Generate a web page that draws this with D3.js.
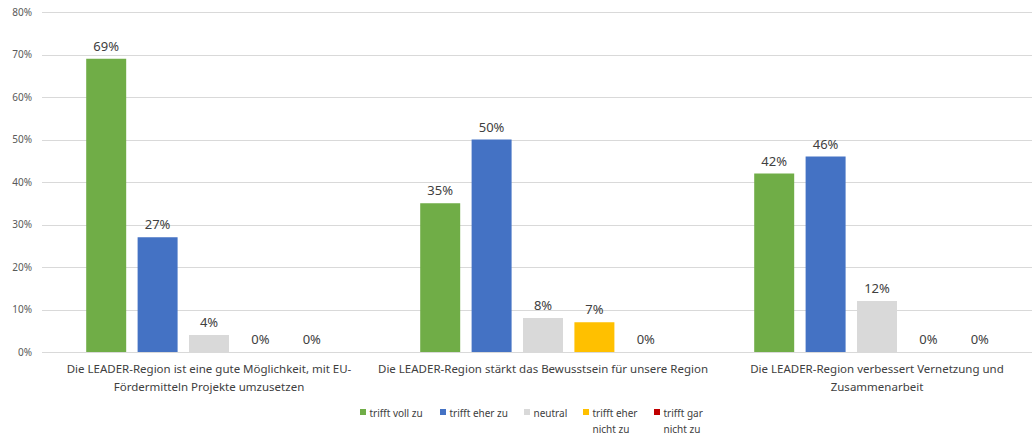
<!DOCTYPE html>
<html><head><meta charset="utf-8">
<script src="https://cdn.jsdelivr.net/npm/d3@7"></script>
<style>body{margin:0;background:#fff}svg{display:block}text{font-family:"Noto Sans",sans-serif}</style>
</head><body>
<svg id="c" width="1032" height="436"></svg>
<script>
const categories = [
  ["Die LEADER-Region ist eine gute Möglichkeit, mit EU-", "Fördermitteln Projekte umzusetzen"],
  ["Die LEADER-Region stärkt das Bewusstsein für unsere Region"],
  ["Die LEADER-Region verbessert Vernetzung und", "Zusammenarbeit"]
];
const seriesNames = ["trifft voll zu", "trifft eher zu", "neutral", "trifft eher nicht zu", "trifft gar nicht zu"];
const legendLines = [["trifft voll zu"], ["trifft eher zu"], ["neutral"], ["trifft eher", "nicht zu"], ["trifft gar", "nicht zu"]];
const trifftVollZu = [69, 35, 42];
const trifftEherZu = [27, 50, 46];
const neutral = [4, 8, 12];
const trifftEherNichtZu = [0, 7, 0];
const trifftGarNichtZu = [0, 0, 0];
const yTicks = [0, 10, 20, 30, 40, 50, 60, 70, 80];
const colors = ["#70AD47", "#4472C4", "#D9D9D9", "#FFC000", "#C00000"];

const series = [trifftVollZu, trifftEherZu, neutral, trifftEherNichtZu, trifftGarNichtZu];
const svg = d3.select("#c");
const mLeft = 42, mTop = 12, mBottom = 352, mRight = 1044;

const y = d3.scaleLinear().domain([0, 80]).range([mBottom, mTop]);
const x0 = d3.scaleBand().domain(d3.range(categories.length)).range([mLeft, mRight]).paddingInner(0).paddingOuter(0);
const x1 = d3.scaleBand().domain(d3.range(series.length)).range([x0.bandwidth()/2 - 2.5*51.4, x0.bandwidth()/2 + 2.5*51.4]).paddingInner(0.222).paddingOuter(0.111);

// gridlines
svg.append("g").selectAll("line").data(yTicks).join("line")
  .attr("x1", mLeft).attr("x2", 1032)
  .attr("y1", d => Math.round(y(d)) + 0.5).attr("y2", d => Math.round(y(d)) + 0.5)
  .attr("stroke", "#D9D9D9").attr("stroke-width", 1);

// y axis labels
const yAxis = d3.axisLeft(y).tickValues(yTicks).tickFormat(d => d + "%").tickSize(0).tickPadding(0);
const ya = svg.append("g").attr("transform", `translate(32,0)`).call(yAxis);
ya.select(".domain").remove();
ya.selectAll("text").attr("fill", "#595959").style("font-size", "10px").style("font-family", '"Noto Sans",sans-serif');

// bars
const groups = svg.append("g").selectAll("g").data(categories).join("g")
  .attr("transform", (d, i) => `translate(${x0(i)},0)`);
groups.each(function(cat, ci) {
  const g = d3.select(this);
  series.forEach((s, si) => {
    const v = s[ci];
    if (v > 0) {
      g.append("rect").attr("x", x1(si)).attr("width", x1.bandwidth())
        .attr("y", y(v)).attr("height", y(0) - y(v)).attr("fill", colors[si]);
    }
    g.append("text").attr("x", x1(si) + x1.bandwidth()/2).attr("y", y(v) - 8)
      .attr("text-anchor", "middle").attr("fill", "#404040").style("font-size", "13px")
      .text(v + "%");
  });
  const t = g.append("text").attr("x", x0.bandwidth()/2).attr("y", 373)
    .attr("text-anchor", "middle").attr("fill", "#404040").style("font-size", "11.5px");
  cat.forEach((line, li) => t.append("tspan").attr("x", x0.bandwidth()/2).attr("dy", li === 0 ? 0 : 17.5).text(line));
});

// legend
const legendX = [360, 440, 524, 583, 654];
const lg = svg.append("g").selectAll("g").data(seriesNames).join("g")
  .attr("transform", (d, i) => `translate(${legendX[i]},0)`);
lg.append("rect").attr("x", 0).attr("y", 409).attr("width", 6).attr("height", 6).attr("fill", (d, i) => colors[i]);
lg.each(function(d, i) {
  const t = d3.select(this).append("text").attr("x", 9.5).attr("y", 416.5)
    .attr("fill", "#404040").style("font-size", "10px");
  legendLines[i].forEach((line, li) => t.append("tspan").attr("x", 9.5).attr("dy", li === 0 ? 0 : 16.5).text(line));
});
</script>
</body></html>
